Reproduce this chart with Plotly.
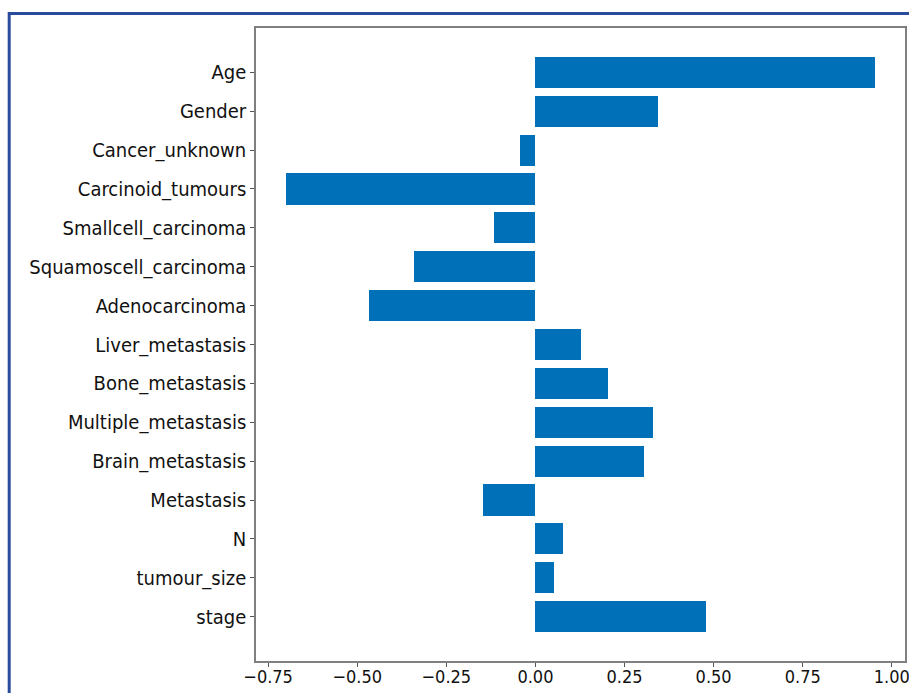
import plotly.graph_objects as go

# Feature coefficients, listed top to bottom
features = [
    "Age", "Gender", "Cancer_unknown", "Carcinoid_tumours", "Smallcell_carcinoma",
    "Squamoscell_carcinoma", "Adenocarcinoma", "Liver_metastasis", "Bone_metastasis",
    "Multiple_metastasis", "Brain_metastasis", "Metastasis", "N", "tumour_size", "stage",
]
coefficients = [
    0.952, 0.343, -0.044, -0.700, -0.116,
    -0.341, -0.467, 0.129, 0.204,
    0.330, 0.305, -0.146, 0.078, 0.053, 0.478,
]
x_ticks = [-0.75, -0.50, -0.25, 0.00, 0.25, 0.50, 0.75, 1.00]

n = len(features)
positions = list(range(n - 1, -1, -1))  # first feature at top

fig = go.Figure(
    go.Bar(
        x=coefficients,
        y=positions,
        orientation="h",
        width=0.8,
        marker=dict(color="#0070B8", line=dict(width=0)),
        hoverinfo="skip",
    )
)

W, H = 909, 693
left, right, top, bottom = 256, 905.5, 28, 660.7
label_font = "DejaVu Sans Condensed, DejaVu Sans, sans-serif"

fig.update_layout(
    width=W,
    height=H,
    margin=dict(l=left, r=W - right, t=top, b=H - bottom, pad=0),
    paper_bgcolor="white",
    plot_bgcolor="white",
    showlegend=False,
    bargap=0,
    font=dict(family=label_font, color="#111111"),
)

fig.update_xaxes(
    range=[-0.784, 1.037],
    tickvals=x_ticks,
    ticktext=[f"{v:.2f}".replace("-", "\u2212") for v in x_ticks],
    tickfont=dict(size=18),
    ticklabeloverflow="allow",
    ticklabelstandoff=-5,
    automargin=False,
    ticks="outside",
    ticklen=4,
    tickcolor="#555555",
    showgrid=False,
    zeroline=False,
    showline=True,
    linecolor="#7f7f7f",
    linewidth=1.5,
    mirror=True,
)
fig.update_yaxes(
    range=[-1.14, n - 1 + 1.14],
    tickvals=positions,
    ticktext=features,
    tickfont=dict(size=20),
    automargin=False,
    ticks="outside",
    ticklen=4,
    tickcolor="#555555",
    showgrid=False,
    zeroline=False,
    showline=True,
    linecolor="#7f7f7f",
    linewidth=1.5,
    mirror=True,
)

# Outer blue frame (top and left edges)
def px_to_paper_x(px):
    return (px - left) / (right - left)

def px_to_paper_y(py):
    return (bottom - py) / (bottom - top)

frame = dict(color="#2A4A9C", width=3)
fig.add_shape(type="line", xref="paper", yref="paper",
              x0=px_to_paper_x(8), x1=px_to_paper_x(912),
              y0=px_to_paper_y(13.5), y1=px_to_paper_y(13.5), line=frame)
fig.add_shape(type="line", xref="paper", yref="paper",
              x0=px_to_paper_x(9), x1=px_to_paper_x(9),
              y0=px_to_paper_y(12), y1=px_to_paper_y(700), line=frame)

fig.write_html("out.html")
